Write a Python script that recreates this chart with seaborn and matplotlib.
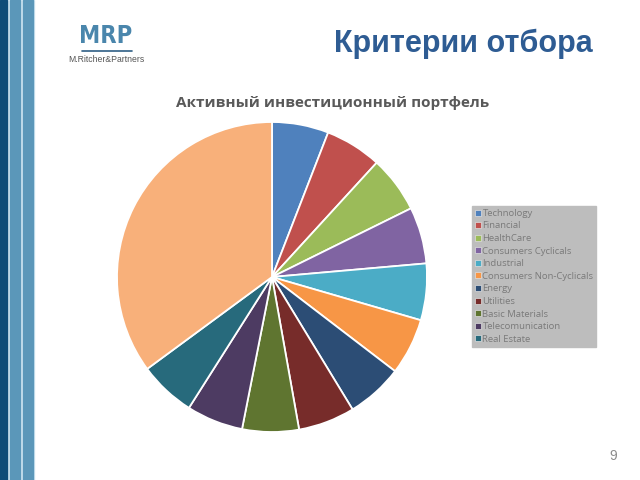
import matplotlib
matplotlib.use("Agg")
import matplotlib.pyplot as plt
from matplotlib.patches import Rectangle, Patch
import seaborn as sns

sns.set_theme(style="white")
plt.rcParams['font.family'] = ['Open Sans', 'DejaVu Sans']

sectors = ["Technology", "Financial", "HealthCare", "Consumers Cyclicals", "Industrial",
           "Consumers Non-Cyclicals", "Energy", "Utilities", "Basic Materials",
           "Telecomunication", "Real Estate", "Other"]
shares = [5.9, 5.9, 5.9, 5.9, 5.9, 5.9, 5.9, 5.9, 5.9, 5.9, 5.9, 35.1]
legend_labels = sectors[:11]
colors = ["#4F81BD", "#C0504D", "#9BBB59", "#8064A2", "#4BACC6", "#F79646",
          "#2C4D75", "#772C2A", "#5F7530", "#4D3B62", "#276A7C", "#F8B07A"]

W, H = 640, 480
fig = plt.figure(figsize=(6.4, 4.8), dpi=100)
fig.patch.set_facecolor("white")

# left decorative stripes
bg = fig.add_axes([0, 0, 1, 1])
bg.set_xlim(0, W); bg.set_ylim(H, 0); bg.axis("off")
bg.add_patch(Rectangle((0, 0), 34, H, color="#D3E8F4"))
bg.add_patch(Rectangle((0, 0), 7, H, color="#0E4C78"))
bg.add_patch(Rectangle((9.5, 0), 10, H, color="#5B97B9"))
bg.add_patch(Rectangle((22.5, 0), 10.5, H, color="#5B97B9"))

# logo
bg.text(106, 36, "MRP", ha="center", va="center", fontsize=17, fontweight="heavy",
        fontstretch="condensed", color="#4A86AC", family=["DejaVu Sans"])
bg.plot([82, 132], [51, 51], color="#2F5F85", lw=1.2)
bg.text(106, 59.5, "M.Ritcher&Partners", ha="center", va="center", fontsize=6.2,
        color="#555555", family=["Liberation Sans", "DejaVu Sans"])

# slide title
bg.text(463.5, 44, "Критерии отбора", ha="center", va="center", fontsize=22,
        fontweight="bold", color="#2E5C93", family=["Liberation Sans", "DejaVu Sans"])
# chart title
bg.text(333, 103, "Активный инвестиционный портфель", ha="center", va="center",
        fontsize=11, fontweight="bold", color="#595959")
# page number
bg.text(613, 456, "9", ha="center", va="center", fontsize=10, color="#8C8C8C",
        family=["Liberation Sans", "DejaVu Sans"])

# pie
cx, cy, r = 272, 277, 155
ax = fig.add_axes([(cx - r) / W, (H - cy - r) / H, 2 * r / W, 2 * r / H])
wedges, _ = ax.pie(shares, colors=colors, startangle=90, counterclock=False,
                   radius=1, wedgeprops=dict(edgecolor="white", linewidth=1.3))
ax.set_xlim(-1.0, 1.0); ax.set_ylim(-1.0, 1.0)
ax.axis("off")

# legend
handles = [Patch(facecolor=c, edgecolor="#E0E0E0", linewidth=0.5) for c in colors[:11]]
leg = fig.legend(handles, legend_labels, loc="upper left",
                 bbox_to_anchor=(472 / W, 1 - 206 / H), frameon=True, fontsize=6.8,
                 labelspacing=0.38, handlelength=0.6, handleheight=0.6,
                 handletextpad=0.2, borderpad=0.3, borderaxespad=0)
frame = leg.get_frame()
frame.set_facecolor("#BDBDBD"); frame.set_edgecolor("#BDBDBD"); frame.set_alpha(1)
frame.set_boxstyle("square", pad=0)
for t in leg.get_texts():
    t.set_color("#7A7A7A")

fig.savefig("out.png", dpi=100)
